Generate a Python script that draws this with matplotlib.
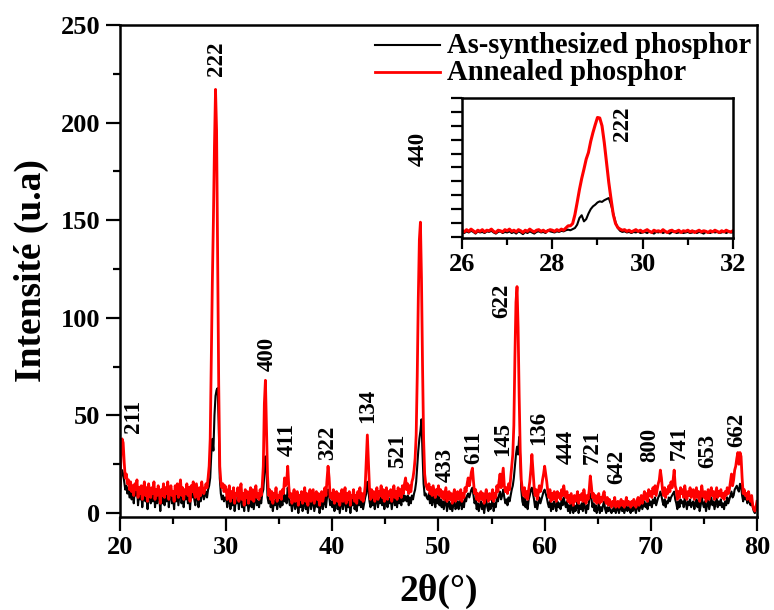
import numpy as np
import matplotlib.pyplot as plt
from matplotlib.ticker import MultipleLocator

plt.rcParams['font.family'] = ['Liberation Serif', 'DejaVu Serif']
plt.rcParams['font.weight'] = 'bold'

# Diffractogrammes (pas de 0.1 deg, de 20 a 80 deg), une ligne par degre
two_theta = np.round(np.arange(20.0, 80.05, 0.1), 1)

annealed = [
    14, 30, 38, 36, 26, 18, 20, 15, 17, 12,
    16, 11, 14, 9, 15, 12, 17, 8, 13, 10,
    14, 7, 12, 16, 9, 13, 6, 15, 11, 8,
    13, 10, 16, 7, 12, 9, 14, 11, 5, 12,
    9, 15, 8, 13, 10, 16, 7, 12, 14, 9,
    11, 6, 14, 10, 15, 8, 12, 17, 9, 13,
    7, 12, 10, 15, 9, 13, 6, 14, 11, 16,
    10, 8, 15, 11, 7, 13, 9, 16, 12, 10,
    12, 15, 13, 18, 24, 38, 80, 118, 150, 188,
    217, 196, 132, 66, 24, 16, 13, 15, 11, 14,
    12, 7, 10, 14, 6, 11, 8, 13, 5, 10,
    9, 13, 6, 11, 15, 7, 10, 4, 12, 8,
    11, 5, 9, 13, 7, 12, 6, 10, 14, 8,
    10, 7, 12, 9, 14, 24, 56, 68, 44, 19,
    9, 12, 7, 11, 5, 10, 8, 13, 6, 9,
    8, 11, 7, 12, 10, 18, 14, 16, 24, 14,
    8, 10, 5, 9, 12, 6, 8, 11, 4, 9,
    7, 11, 5, 8, 13, 6, 10, 4, 9, 12,
    6, 9, 12, 5, 8, 11, 7, 10, 4, 8,
    11, 6, 9, 13, 9, 17, 24, 18, 8, 10,
    7, 12, 5, 9, 11, 6, 10, 4, 8, 12,
    6, 9, 13, 5, 10, 7, 11, 4, 9, 8,
    12, 6, 9, 5, 11, 8, 13, 7, 10, 6,
    9, 14, 27, 40, 26, 13, 7, 12, 8, 11,
    6, 10, 13, 7, 11, 9, 14, 8, 12, 6,
    10, 13, 7, 11, 9, 12, 6, 10, 14, 8,
    11, 7, 13, 9, 12, 8, 14, 10, 15, 18,
    12, 15, 10, 14, 11, 16, 18, 22, 28, 40,
    70, 110, 140, 149, 120, 75, 38, 20, 15, 13,
    12, 15, 10, 13, 9, 14, 11, 8, 12, 10,
    14, 9, 12, 8, 11, 7, 10, 13, 6, 9,
    11, 7, 10, 5, 9, 12, 6, 8, 11, 7,
    9, 12, 6, 10, 8, 13, 11, 15, 18, 14,
    17, 21, 23, 16, 10, 12, 7, 10, 6, 9,
    11, 7, 10, 5, 9, 12, 8, 6, 10, 7,
    9, 12, 6, 10, 8, 14, 11, 16, 20, 13,
    18, 23, 14, 11, 13, 10, 15, 12, 18, 24,
    30, 45, 80, 108, 116, 95, 60, 32, 17, 12,
    9, 13, 8, 11, 7, 12, 16, 22, 30, 22,
    14, 9, 12, 7, 10, 14, 11, 13, 17, 20,
    24, 20, 16, 11, 8, 12, 6, 10, 7, 11,
    9, 6, 11, 8, 10, 7, 12, 9, 14, 10,
    8, 11, 6, 9, 5, 10, 7, 4, 9, 6,
    8, 11, 5, 9, 7, 10, 6, 12, 8, 5,
    9, 7, 12, 19, 14, 8, 10, 6, 9, 5,
    7, 10, 5, 8, 6, 9, 11, 7, 5, 8,
    4, 7, 5, 3, 6, 4, 8, 3, 5, 6,
    3, 5, 7, 4, 6, 3, 5, 8, 4, 6,
    5, 3, 6, 4, 7, 5, 3, 6, 8, 4,
    6, 9, 5, 8, 11, 7, 10, 6, 12, 9,
    11, 8, 13, 10, 14, 9, 12, 15, 17, 22,
    18, 12, 9, 13, 8, 12, 10, 14, 11, 16,
    13, 17, 22, 14, 12, 7, 11, 8, 13, 10,
    12, 8, 14, 10, 7, 11, 9, 13, 8, 10,
    12, 7, 10, 13, 8, 11, 6, 9, 14, 10,
    8, 11, 6, 9, 12, 7, 10, 13, 9, 11,
    7, 10, 13, 8, 11, 9, 12, 8, 10, 7,
    11, 9, 13, 10, 12, 16, 20, 14, 17, 22,
    24, 28, 31, 25, 31, 29, 18, 10, 12, 9,
    10, 7, 11, 8, 6, 9, 4, 2, 1, 3,
    6,
]

as_synth = [
    10, 18, 22, 20, 16, 12, 14, 10, 13, 8,
    13, 7, 11, 5, 12, 9, 14, 4, 10, 7,
    11, 3, 9, 13, 6, 10, 2, 12, 8, 5,
    10, 6, 13, 3, 9, 5, 11, 8, 1, 9,
    5, 12, 4, 10, 6, 13, 3, 9, 11, 5,
    8, 2, 11, 6, 12, 4, 9, 14, 5, 10,
    3, 9, 7, 12, 5, 10, 2, 11, 8, 13,
    7, 4, 12, 8, 3, 10, 6, 13, 9, 7,
    9, 11, 8, 12, 14, 18, 30, 38, 32, 50,
    60, 63, 64, 46, 18, 10, 7, 9, 6, 8,
    8, 3, 6, 10, 2, 7, 4, 9, 1, 6,
    5, 9, 2, 7, 11, 3, 6, 1, 8, 4,
    7, 1, 5, 9, 3, 8, 2, 6, 10, 4,
    6, 3, 8, 5, 10, 12, 20, 29, 22, 8,
    5, 8, 3, 7, 1, 6, 4, 9, 2, 5,
    7, 3, 8, 4, 11, 6, 9, 5, 13, 8,
    4, 6, 1, 5, 8, 2, 4, 7, 0, 5,
    3, 7, 1, 4, 9, 2, 6, 0, 5, 8,
    2, 5, 8, 1, 4, 7, 3, 6, 0, 4,
    7, 2, 5, 9, 3, 8, 12, 9, 4, 6,
    3, 8, 1, 5, 7, 2, 6, 0, 4, 8,
    2, 5, 9, 1, 6, 3, 7, 0, 5, 4,
    8, 2, 5, 1, 7, 4, 9, 3, 6, 2,
    5, 8, 10, 16, 12, 6, 3, 8, 4, 7,
    2, 6, 9, 3, 7, 5, 10, 4, 8, 2,
    6, 9, 3, 7, 5, 8, 2, 6, 10, 4,
    7, 3, 9, 5, 8, 4, 10, 6, 9, 8,
    6, 9, 4, 8, 5, 9, 7, 10, 12, 16,
    24, 32, 38, 42, 48, 30, 15, 9, 10, 8,
    7, 10, 5, 9, 4, 10, 6, 3, 8, 5,
    9, 4, 7, 3, 6, 2, 5, 8, 1, 4,
    6, 2, 5, 1, 4, 7, 2, 3, 6, 2,
    5, 7, 2, 6, 3, 8, 6, 9, 10, 8,
    10, 12, 13, 9, 5, 7, 2, 5, 1, 4,
    6, 2, 5, 0, 4, 7, 3, 1, 5, 2,
    4, 7, 1, 5, 3, 8, 6, 9, 11, 7,
    9, 12, 8, 5, 7, 4, 8, 6, 9, 12,
    14, 18, 24, 30, 34, 30, 39, 28, 12, 6,
    4, 8, 3, 6, 2, 7, 9, 12, 13, 10,
    7, 3, 6, 2, 5, 8, 5, 7, 9, 11,
    12, 10, 8, 5, 3, 6, 1, 5, 2, 6,
    4, 1, 6, 3, 5, 2, 7, 4, 8, 5,
    3, 6, 1, 4, 0, 5, 2, 0, 4, 1,
    3, 6, 0, 4, 2, 5, 1, 7, 3, 0,
    4, 2, 7, 10, 8, 3, 5, 1, 4, 0,
    2, 5, 0, 3, 1, 4, 6, 2, 0, 3,
    1, 3, 1, 0, 2, 1, 4, 0, 2, 3,
    0, 2, 4, 1, 3, 0, 2, 4, 1, 3,
    2, 0, 3, 1, 4, 2, 0, 3, 4, 1,
    3, 5, 2, 4, 6, 3, 5, 2, 7, 4,
    6, 3, 7, 5, 8, 4, 6, 8, 9, 11,
    9, 6, 4, 7, 3, 6, 5, 8, 6, 8,
    9, 10, 11, 7, 5, 2, 6, 3, 7, 5,
    6, 3, 8, 5, 2, 6, 4, 7, 3, 5,
    6, 2, 5, 7, 3, 6, 1, 4, 8, 5,
    3, 6, 1, 4, 7, 2, 5, 8, 4, 6,
    2, 5, 8, 3, 6, 4, 7, 3, 5, 2,
    6, 4, 8, 5, 7, 9, 11, 8, 9, 12,
    13, 14, 12, 11, 15, 14, 9, 6, 10, 7,
    8, 5, 9, 6, 4, 7, 3, 1, 0, 2,
    4,
]

# Zoom sur le pic (222) : pas de 0.05 deg de 26 a 32 deg
zoom_theta = np.round(np.arange(26.0, 32.025, 0.05), 2)

zoom_annealed = [
    12, 9, 13, 10, 14, 11, 8, 12, 10, 13, 9, 12, 11, 14, 10, 8, 12, 11, 9, 13,
    11, 14, 10, 12, 9, 13, 11, 8, 12, 10, 14, 11, 9, 12, 13, 10, 12, 9, 11, 13,
    12, 10, 13, 11, 14, 12, 16, 20, 20, 24, 40, 62, 85, 105, 122, 140, 152, 172, 188, 202,
    215, 214, 200, 170, 134, 98, 68, 40, 24, 17, 14, 12, 13, 10, 12, 9, 11, 13, 10, 12,
    9, 11, 13, 10, 8, 12, 10, 11, 9, 13, 10, 8, 11, 12, 9, 10, 12, 8, 11, 10,
    12, 9, 11, 8, 10, 12, 9, 11, 10, 8, 11, 9, 12, 10, 8, 11, 9, 12, 10, 9,
    11,
]

zoom_as_synth = [
    9, 7, 10, 8, 11, 9, 6, 10, 8, 9, 7, 10, 9, 11, 8, 6, 9, 10, 7, 9,
    8, 10, 7, 9, 6, 10, 8, 5, 9, 7, 10, 8, 6, 9, 10, 8, 9, 7, 12, 10,
    9, 8, 10, 9, 11, 10, 12, 13, 12, 14, 16, 22, 34, 39, 28, 32, 42, 50, 55, 58,
    62, 64, 63, 66, 68, 70, 58, 42, 26, 16, 11, 9, 10, 8, 9, 7, 9, 8, 10, 7,
    8, 9, 7, 10, 8, 6, 9, 8, 10, 7, 9, 8, 6, 9, 10, 7, 8, 9, 7, 8,
    9, 7, 8, 10, 7, 9, 8, 6, 9, 8, 7, 10, 8, 9, 7, 8, 10, 7, 9, 8,
    8,
]

# Indices de Miller et position des etiquettes (2theta, bas du texte)
hkl = ['211', '222', '400', '411', '322', '134', '521', '440', '433', '611',
       '145', '622', '136', '444', '721', '642', '800', '741', '653', '662']
hkl_x = [21.3, 29.1, 33.85, 35.8, 39.6, 43.3, 46.1, 48.1, 50.6, 53.3,
         56.0, 56.0, 59.4, 62.0, 64.5, 66.8, 69.9, 72.7, 75.4, 78.1]
hkl_y = [41, 224, 73, 29, 27, 46, 23, 178, 16, 25,
         29, 100, 35, 25, 25, 15, 26, 27, 23, 34]

fig = plt.figure(figsize=(7.74, 6.10), dpi=100)
ax = fig.add_axes([0.155, 0.1525, 0.823, 0.8066])

l1, = ax.plot(two_theta, as_synth, color='black', lw=1.5)
l2, = ax.plot(two_theta, annealed, color='#ff0000', lw=2.0)

for lab, x, y in zip(hkl, hkl_x, hkl_y):
    ax.text(x, y, lab, rotation=90, ha='center', va='bottom',
            fontsize=16.5, fontweight='bold')

ax.set_xlim(20, 80)
ax.set_ylim(-2, 250)
ax.xaxis.set_major_locator(MultipleLocator(10))
ax.xaxis.set_minor_locator(MultipleLocator(5))
ax.yaxis.set_major_locator(MultipleLocator(50))
ax.yaxis.set_minor_locator(MultipleLocator(25))
ax.tick_params(which='major', direction='out', length=10, width=1.6, labelsize=19, pad=4)
ax.tick_params(which='minor', direction='out', length=5, width=1.6)
for s in ax.spines.values():
    s.set_linewidth(1.8)
for t in ax.get_xticklabels() + ax.get_yticklabels():
    t.set_fontweight('bold')

ax.set_xlabel('2θ(°)', fontsize=27, fontweight='bold')
ax.set_ylabel('Intensité (u.a)', fontsize=27, fontweight='bold')
ax.xaxis.set_label_coords(0.5, -0.115)
ax.yaxis.set_label_coords(-0.112, 0.5)

# Legende : trait + texte, en coordonnees d'axes
leg_y = [0.959, 0.904]
for line, txt, y in zip([l1, l2], ['As-synthesized phosphor', 'Annealed phosphor'], leg_y):
    ax.plot([0.400, 0.502], [y, y], transform=ax.transAxes, color=line.get_color(),
            lw=line.get_linewidth(), clip_on=False)
    ax.text(0.513, y, txt, transform=ax.transAxes, ha='left', va='center',
            fontsize=20.6, fontweight='bold')

# Encart : agrandissement du pic (222)
axi = fig.add_axes([0.5969, 0.6098, 0.3501, 0.2295])
axi.plot(zoom_theta, zoom_as_synth, color='black', lw=1.5)
axi.plot(zoom_theta, zoom_annealed, color='#ff0000', lw=2.2)
axi.text(29.56, 172, '222', rotation=90, ha='center', va='bottom',
         fontsize=16.5, fontweight='bold')
axi.set_xlim(26, 32)
axi.set_ylim(-2, 250)
axi.xaxis.set_major_locator(MultipleLocator(2))
axi.xaxis.set_minor_locator(MultipleLocator(1))
axi.yaxis.set_major_locator(MultipleLocator(25))
axi.tick_params(which='major', direction='out', length=8, width=1.6, labelsize=19, pad=3)
axi.tick_params(which='minor', direction='out', length=5, width=1.6)
axi.tick_params(axis='y', labelleft=False)
for s in axi.spines.values():
    s.set_linewidth(1.8)
for t in axi.get_xticklabels():
    t.set_fontweight('bold')

fig.savefig('out.png', dpi=100)
